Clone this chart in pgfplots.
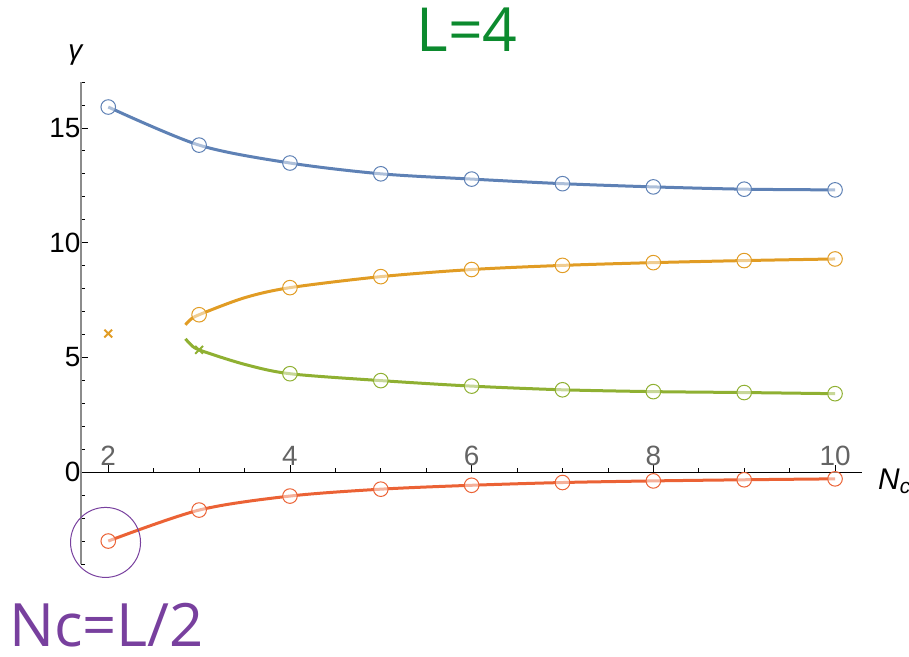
\documentclass[border=0pt]{standalone}
\usepackage{fontspec}
\setmainfont{Liberation Sans}
\newfontfamily\labelfont{Open Sans}
\usepackage{pgfplots}
\pgfplotsset{compat=1.18}

\definecolor{mblue}{RGB}{94,129,181}
\definecolor{morange}{RGB}{225,156,36}
\definecolor{mgreen}{RGB}{143,176,50}
\definecolor{mred}{RGB}{235,98,53}
\definecolor{titlegreen}{RGB}{12,138,46}
\definecolor{mpurple}{RGB}{120,64,158}
\definecolor{ticklabelgray}{RGB}{100,100,100}

\pgfplotsset{
  curve/.style={line width=3bp, smooth},
  ring/.style={only marks, mark=*, mark size=7.3bp, line width=1bp,
    mark options={draw=#1, fill=white, fill opacity=0.5}},
  cross/.style={only marks, mark=x, mark size=5.5bp, line width=2bp, #1},
}

\begin{document}
\begin{tikzpicture}
\useasboundingbox (-81bp,-93bp) rectangle (828bp,564bp);
\begin{axis}[
  scale only axis, width=781.3bp, height=482bp,
  xmin=1.7, xmax=10.3, ymin=-4, ymax=17,
  axis x line=middle, axis y line=left,
  x axis line style={-, black, line width=0.9bp},
  y axis line style={-, black!45, line width=2bp},
  xtick={2,4,6,8,10}, ytick={0,5,10,15},
  minor xtick={2.5,3,...,9.5}, minor ytick={-4,-3,...,17},
  hide obscured x ticks=false, hide obscured y ticks=false,
  tick align=inside,
  major tick length=7bp, minor tick length=4.5bp,
  every tick/.style={black, line width=0.8bp},
  /pgf/number format/assume math mode=true,
  ticklabel style={font=\fontsize{28}{30}\selectfont},
  xticklabel style={anchor=south, yshift=3bp, text=ticklabelgray},
  yticklabel style={anchor=east, xshift=3bp, text=black},
  clip=false,
]
% gamma branches
\addplot[curve, mblue] coordinates {(2,15.91)(3,14.25)(4,13.47)(5,13.0)(6,12.77)(7,12.57)(8,12.43)(9,12.33)(10,12.30)};
\addplot[curve, morange] coordinates {(2.85,6.42)(2.9,6.63)(3,6.86)(3.5,7.6)(4,8.04)(5,8.52)(6,8.83)(7,9.01)(8,9.13)(9,9.22)(10,9.29)};
\addplot[curve, mgreen] coordinates {(2.85,5.81)(2.9,5.6)(3,5.33)(3.5,4.7)(4,4.29)(5,3.99)(6,3.75)(7,3.59)(8,3.51)(9,3.47)(10,3.42)};
\addplot[curve, mred] coordinates {(2,-3.0)(3,-1.65)(4,-1.04)(5,-0.74)(6,-0.57)(7,-0.45)(8,-0.38)(9,-0.33)(10,-0.29)};

% discrete values
\addplot[ring=mblue] coordinates {(2,15.91)(3,14.25)(4,13.47)(5,13.0)(6,12.77)(7,12.57)(8,12.43)(9,12.33)(10,12.30)};
\addplot[ring=morange] coordinates {(3,6.86)(4,8.04)(5,8.52)(6,8.83)(7,9.01)(8,9.13)(9,9.22)(10,9.29)};
\addplot[ring=mgreen] coordinates {(4,4.29)(5,3.99)(6,3.75)(7,3.59)(8,3.51)(9,3.47)(10,3.42)};
\addplot[ring=mred] coordinates {(2,-3.0)(3,-1.65)(4,-1.04)(5,-0.74)(6,-0.57)(7,-0.45)(8,-0.38)(9,-0.33)(10,-0.29)};
\addplot[cross=morange] coordinates {(2,6.04)};
\addplot[cross=mgreen] coordinates {(3,5.33)};

% highlight of the N_c = L/2 point
\draw[mpurple, line width=1bp] (axis cs:1.97,-3.06) circle [radius=35bp];
\end{axis}

% axis labels
\node[anchor=base, inner sep=0pt, font=\fontsize{28}{30}\selectfont] at (-5bp,504bp) {\textit{γ}};
\node[anchor=base west, inner sep=0pt, font=\fontsize{30}{32}\selectfont] at (797bp,74bp) {\textit{N}\textsubscript{\textit{c}}};

% annotations
\node[anchor=base, inner sep=0pt, text=titlegreen, font=\labelfont\fontsize{61}{61}\selectfont] at (386bp,512bp) {L=4};
\node[anchor=base west, inner sep=0pt, text=mpurple, font=\labelfont\fontsize{60}{60}\selectfont] at (-72bp,-82bp) {Nc=L/2};
\end{tikzpicture}
\end{document}
